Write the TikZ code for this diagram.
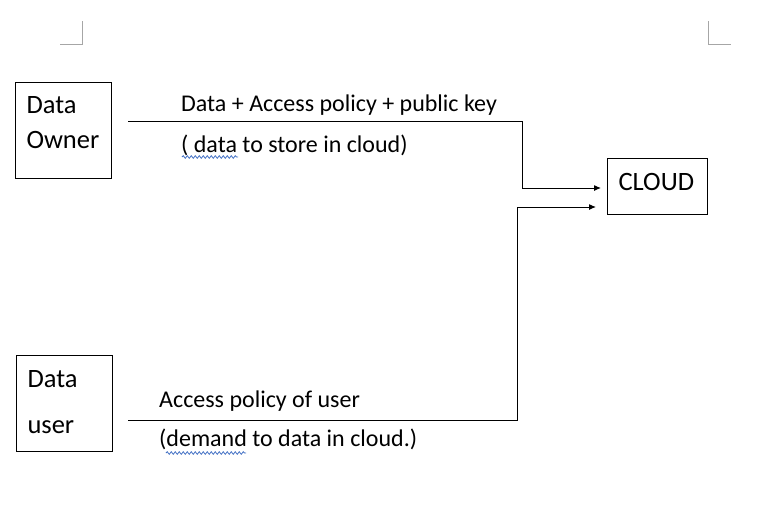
\documentclass[tikz,border=0pt]{standalone}
\usepackage{fontspec}
\setmainfont{Carlito}
\usepackage{xcolor}
\usepackage{tikz}
\usetikzlibrary{positioning, arrows.meta, decorations.pathmorphing}
\definecolor{markColor}{HTML}{A6A6A6}
\definecolor{squiggleColor}{HTML}{4472C4}

\begin{document}
\begin{tikzpicture}[
  x=1pt, y=-1pt,
  party/.style={
    rectangle,
    draw=black,
    line width=1pt,
    anchor=north west,
    align=left,
    text width=74pt,
    inner xsep=11pt,
    inner ysep=0pt,
    text depth=65pt
  },
  label/.style={
    anchor=base west,
    inner sep=0pt,
    font=\fontsize{24}{28}\selectfont
  },
  link/.style={
    -{Latex[length=7pt,width=6pt]},
    line width=1pt,
    draw=black
  },
  squiggle/.style={
    draw=squiggleColor,
    line width=0.8pt,
    decorate,
    decoration={snake, amplitude=1.3pt, segment length=4pt}
  },
  cornermark/.style={
    draw=markColor,
    line width=1pt
  }
]
  \useasboundingbox (0,0) rectangle (778,523);

  % Page corner marks
  \draw[cornermark] (60,44) -- (82,44) -- (82,21);
  \draw[cornermark] (708,21) -- (708,44) -- (731,44);

  % Define nodes
  \node[party, text height=31pt, font=\fontsize{26.5}{35}\selectfont] (owner) at (15,82) {Data\\Owner};
  \node[party, text height=32pt, text depth=64pt, font=\fontsize{26.5}{46}\selectfont] (user) at (16,355) {Data\\user};
  \node[rectangle, draw=black, line width=1pt, anchor=north west, minimum width=100pt,
        text width=78pt, inner xsep=11pt, inner ysep=0pt, text height=32pt, text depth=24pt,
        font=\fontsize{26.5}{30}\selectfont] (cloud) at (607,158) {CLOUD};

  \node[label] (sendtop) at (181,111) {Data + Access policy + public key};
  \node[label] (sendbot) at (181,152) {( data to store in cloud)};
  \node[label] (asktop) at (159,407) {Access policy of user};
  \node[label] (askbot) at (159,446) {(demand to data in cloud.)};

  % Connector points
  \coordinate (ownerout) at (128,121);
  \coordinate (turnA) at (522,188);
  \coordinate (inA) at (601,188);
  \coordinate (userout) at (128,420);
  \coordinate (turnB) at (517,207);
  \coordinate (inB) at (596,207);

  % Connect nodes with arrows
  \draw[link] (ownerout) -| (turnA) -- (inA);
  \draw[link] (userout) -| (turnB) -- (inB);

  % Spell-check underlines
  \draw[squiggle] (182,157) -- (238,157);
  \draw[squiggle] (166,453) -- (246,453);
\end{tikzpicture}
\end{document}
